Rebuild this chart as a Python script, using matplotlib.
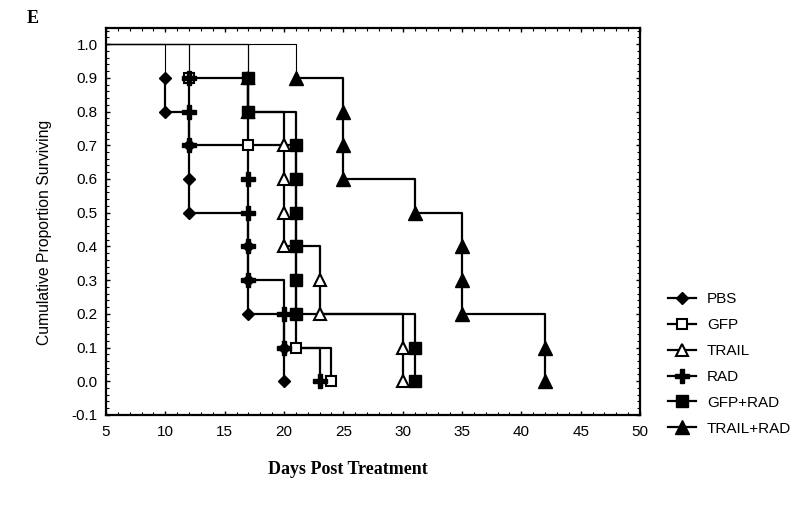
import matplotlib
matplotlib.use('Agg')
import matplotlib.pyplot as plt
from matplotlib.ticker import MultipleLocator
from matplotlib.lines import Line2D

plt.rcParams['font.family'] = ['Liberation Sans', 'DejaVu Sans']

# ---- data (Kaplan-Meier events: day of each death, survival after it) ----
groups = ['PBS', 'GFP', 'TRAIL', 'RAD', 'GFP+RAD', 'TRAIL+RAD']

pbs_days = [10, 10, 12, 12, 12, 17, 17, 17, 20, 20]
pbs_surv = [0.9, 0.8, 0.7, 0.6, 0.5, 0.4, 0.3, 0.2, 0.1, 0.0]

gfp_days = [12, 17, 17, 21, 21, 21, 21, 21, 21, 24]
gfp_surv = [0.9, 0.8, 0.7, 0.6, 0.5, 0.4, 0.3, 0.2, 0.1, 0.0]

trail_days = [17, 17, 20, 20, 20, 20, 23, 23, 30, 30]
trail_surv = [0.9, 0.8, 0.7, 0.6, 0.5, 0.4, 0.3, 0.2, 0.1, 0.0]

rad_days = [12, 12, 12, 17, 17, 17, 17, 20, 20, 23]
rad_surv = [0.9, 0.8, 0.7, 0.6, 0.5, 0.4, 0.3, 0.2, 0.1, 0.0]

gfprad_days = [17, 17, 21, 21, 21, 21, 21, 21, 31, 31]
gfprad_surv = [0.9, 0.8, 0.7, 0.6, 0.5, 0.4, 0.3, 0.2, 0.1, 0.0]

trailrad_days = [21, 25, 25, 25, 31, 35, 35, 35, 42, 42]
trailrad_surv = [0.9, 0.8, 0.7, 0.6, 0.5, 0.4, 0.3, 0.2, 0.1, 0.0]

x_ticks = [5, 10, 15, 20, 25, 30, 35, 40, 45, 50]
y_ticks = [-0.1, 0.0, 0.1, 0.2, 0.3, 0.4, 0.5, 0.6, 0.7, 0.8, 0.9, 1.0]

series = [
    (pbs_days, pbs_surv, dict(marker='D', ms=6.2, mfc='black', mec='black')),
    (gfp_days, gfp_surv, dict(marker='s', ms=7.5, mfc='white', mec='black', mew=1.5)),
    (trail_days, trail_surv, dict(marker='^', ms=8.5, mfc='white', mec='black', mew=1.5)),
    (rad_days, rad_surv, dict(marker='P', ms=9.5, mfc='black', mec='black')),
    (gfprad_days, gfprad_surv, dict(marker='s', ms=9, mfc='black', mec='black')),
    (trailrad_days, trailrad_surv, dict(marker='^', ms=10, mfc='black', mec='black')),
]

fig = plt.figure(figsize=(8.0, 5.18), dpi=100)
ax = fig.add_axes([0.1325, 0.199, 0.6675, 0.747])

handles = []
for (days, surv, mk), name in zip(series, groups):
    # thin initial segment at 1.0
    ax.plot([0, days[0], days[0]], [1.0, 1.0, surv[0]], color='black', lw=0.8, zorder=2)
    xs = [days[0]]
    ys = [surv[0]]
    for i in range(1, len(days)):
        xs += [days[i], days[i]]
        ys += [surv[i - 1], surv[i]]
    ax.plot(xs, ys, color='black', lw=1.6, zorder=3)
    ax.plot(days, surv, linestyle='none', zorder=5, **mk)
    handles.append(Line2D([], [], color='black', lw=1.6, **mk))

ax.set_xlim(5, 50)
ax.set_ylim(-0.1, 1.048)
ax.set_xticks(x_ticks)
ax.set_yticks(y_ticks)
ax.set_yticklabels([f'{v:.1f}' for v in y_ticks])
ax.xaxis.set_minor_locator(MultipleLocator(1))
ax.yaxis.set_minor_locator(MultipleLocator(0.02))
ax.tick_params(which='both', direction='in', top=True, right=True, colors='black',
               labelsize=11)
ax.tick_params(which='major', length=3, width=1)
ax.tick_params(which='minor', length=2, width=0.8)
ax.tick_params(axis='x', pad=7)
ax.tick_params(axis='y', pad=6)
for s in ax.spines.values():
    s.set_linewidth(1.6)

fig.text(0.056, 0.552, 'Cumulative Proportion Surviving', rotation=90,
         ha='center', va='center', fontsize=11.3)
fig.text(0.435, 0.093, 'Days Post Treatment', ha='center', va='center',
         fontsize=13, fontweight='bold', family=['Liberation Serif', 'DejaVu Serif'])
fig.text(0.041, 0.965, 'E', ha='center', va='center', fontsize=13,
         fontweight='bold', family=['Liberation Serif', 'DejaVu Serif'])

fig.legend(handles, groups, loc='upper left', bbox_to_anchor=(0.835, 0.436),
           frameon=False, fontsize=11, handlelength=1.8, handletextpad=0.75,
           labelspacing=0.78, borderpad=0, borderaxespad=0)

fig.savefig('out.png', dpi=100)
